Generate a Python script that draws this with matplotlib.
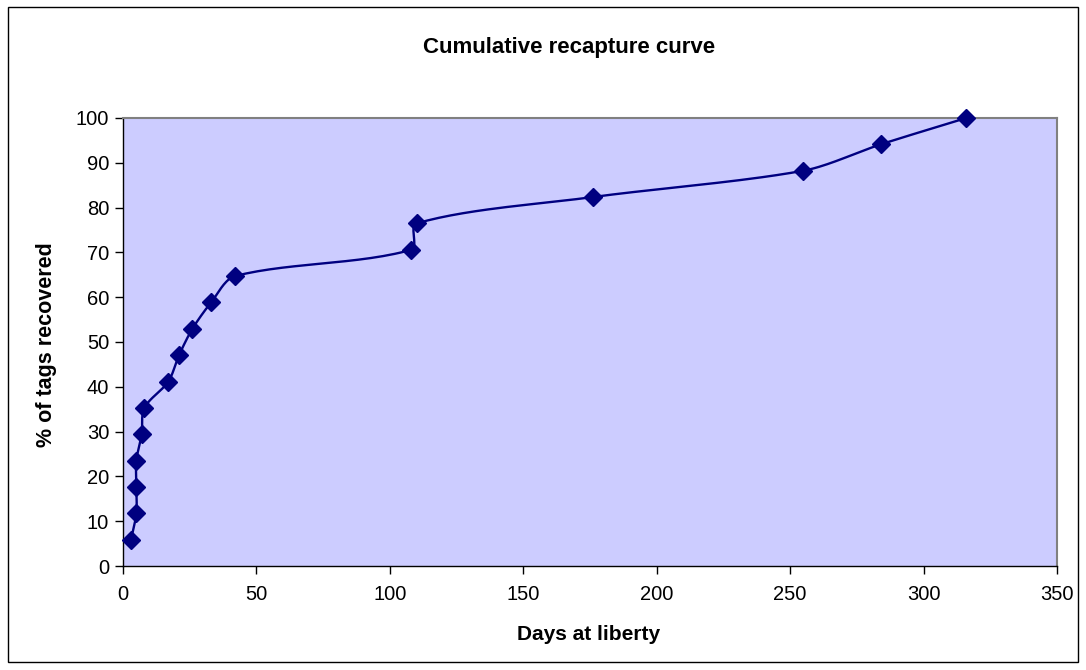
import numpy as np
import matplotlib.pyplot as plt
from matplotlib.patches import Rectangle

plt.rcParams['font.family'] = ['Liberation Sans', 'DejaVu Sans']

# Data
days = [3, 5, 5, 5, 7, 8, 17, 21, 26, 33, 42, 108, 110, 176, 255, 284, 316]
pct_recovered = [5.88, 11.76, 17.65, 23.53, 29.41, 35.29, 41.18, 47.06, 52.94,
                 58.82, 64.71, 70.59, 76.47, 82.35, 88.24, 94.12, 100.0]


def smooth_line(x, y, sx, sy, k=0.3, n=30):
    # Excel-like smoothed line: bezier segments in screen-scaled space,
    # control arms limited to a share of each segment's own length
    p = np.column_stack([np.asarray(x, float) * sx, np.asarray(y, float) * sy])
    out = [p[0]]
    for i in range(len(p) - 1):
        p0 = p[i - 1] if i > 0 else p[i]
        p1, p2 = p[i], p[i + 1]
        p3 = p[i + 2] if i + 2 < len(p) else p[i + 1]
        seglen = np.hypot(*(p2 - p1))
        d1 = p2 - p0
        d2 = p3 - p1
        d1 = d1 / (np.hypot(*d1) or 1)
        d2 = d2 / (np.hypot(*d2) or 1)
        c1 = p1 + d1 * seglen * k
        c2 = p2 - d2 * seglen * k
        t = np.linspace(0, 1, n)[1:, None]
        seg = ((1 - t) ** 3) * p1 + 3 * ((1 - t) ** 2) * t * c1 + 3 * (1 - t) * t ** 2 * c2 + t ** 3 * p2
        out.extend(seg)
    out = np.array(out)
    return out[:, 0] / sx, out[:, 1] / sy


W, H = 1086, 670
fig = plt.figure(figsize=(W / 100, H / 100), dpi=100)
ax = fig.add_axes([123 / W, 1 - 566 / H, (1057 - 123) / W, (566 - 118) / H])
ax.set_facecolor('#CCCCFF')

# pixel scale of plot area
sx = 934 / 350
sy = 448 / 100
xs, ys = smooth_line(days, pct_recovered, sx, sy)
ax.plot(xs, ys, color='#000080', lw=1.7, zorder=3)
ax.plot(days, pct_recovered, linestyle='none', marker='D', ms=9,
        color='#000080', zorder=4, clip_on=False)

ax.set_xlim(0, 350)
ax.set_ylim(0, 100)
ax.set_xticks(np.arange(0, 351, 50))
ax.set_yticks(np.arange(0, 101, 10))
ax.tick_params(direction='out', length=6, width=1, labelsize=14.5)
ax.tick_params(axis='y', pad=4)
ax.tick_params(axis='x', pad=8)

for s in ['left', 'bottom']:
    ax.spines[s].set_color('black')
    ax.spines[s].set_linewidth(1)
for s in ['top', 'right']:
    ax.spines[s].set_color('#808080')
    ax.spines[s].set_linewidth(1.5)

fig.text(589 / W, 1 - 634 / H, 'Days at liberty', fontsize=15,
         fontweight='bold', ha='center', va='center')
fig.text(47 / W, 1 - 345 / H, '% of tags recovered', fontsize=15.5,
         fontweight='bold', ha='center', va='center', rotation=90)
fig.text(569 / W, 1 - 47 / H, 'Cumulative recapture curve', fontsize=16,
         fontweight='bold', ha='center', va='center')

# outer chart border
fig.patches.append(Rectangle((8 / W, 1 - 662 / H), 1070 / W, 655 / H,
                             transform=fig.transFigure, fill=False,
                             edgecolor='black', lw=1))

fig.savefig('out.png', dpi=100)
